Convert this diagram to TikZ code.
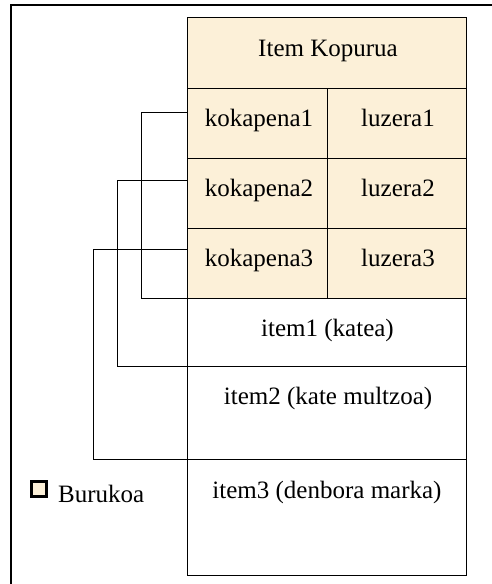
\documentclass[tikz,border=0pt]{standalone}
\usepackage{fontspec}
\setmainfont{Liberation Serif}
\definecolor{cream}{RGB}{252,240,216}
\begin{document}
\begin{tikzpicture}[x=1pt,y=-1pt,
  cell/.style={draw=black,line width=1.3pt,inner sep=0pt,anchor=north west},
  hcell/.style={cell,fill=cream},
  txt/.style={anchor=base,inner sep=0pt,font=\fontsize{25}{29}\selectfont},
  conn/.style={draw=black,line width=1pt}]
\useasboundingbox (0,0) rectangle (492,584);
% frame (cropped)
\draw[line width=1.4pt] (492,5) -- (11,5) -- (11,584);
% header cells
\node[hcell,minimum width=279pt,minimum height=71pt] (head) at (187,17) {};
\node[hcell,minimum width=140pt,minimum height=70pt] (k1) at (187,88) {};
\node[hcell,minimum width=139pt,minimum height=70pt] (l1) at (327,88) {};
\node[hcell,minimum width=140pt,minimum height=70pt] (k2) at (187,158) {};
\node[hcell,minimum width=139pt,minimum height=70pt] (l2) at (327,158) {};
\node[hcell,minimum width=140pt,minimum height=70pt] (k3) at (187,228) {};
\node[hcell,minimum width=139pt,minimum height=70pt] (l3) at (327,228) {};
% item cells
\node[cell,minimum width=279pt,minimum height=68pt] (i1) at (187,298) {};
\node[cell,minimum width=279pt,minimum height=93pt] (i2) at (187,366) {};
\node[cell,minimum width=279pt,minimum height=116pt] (i3) at (187,459) {};
% texts
\node[txt] (thead) at (328,56) {Item Kopurua};
\node[txt] (tk1) at (259,126) {kokapena1};
\node[txt] (tl1) at (398,126) {luzera1};
\node[txt] (tk2) at (259,196) {kokapena2};
\node[txt] (tl2) at (398,196) {luzera2};
\node[txt] (tk3) at (259,266) {kokapena3};
\node[txt] (tl3) at (398,266) {luzera3};
\node[txt] (ti1) at (327.5,336) {item1 (katea)};
\node[txt] (ti2) at (328,404) {item2 (kate multzoa)};
\node[txt] (ti3) at (327,498) {item3 (denbora marka)};
% connectors
\draw[conn] ([yshift=11pt]k1.west) -- ++(-46,0) |- (i1.north west);
\draw[conn] ([yshift=13pt]k2.west) -- ++(-70,0) |- (i2.north west);
\draw[conn] ([yshift=14pt]k3.west) -- ++(-94,0) |- (i3.north west);
% legend
\node[draw=black,line width=3pt,fill=cream,minimum width=15pt,minimum height=15pt,inner sep=0pt] (leg) at (39,489) {};
\node[txt,anchor=base west] (legt) at (58,502) {Burukoa};
\end{tikzpicture}
\end{document}
